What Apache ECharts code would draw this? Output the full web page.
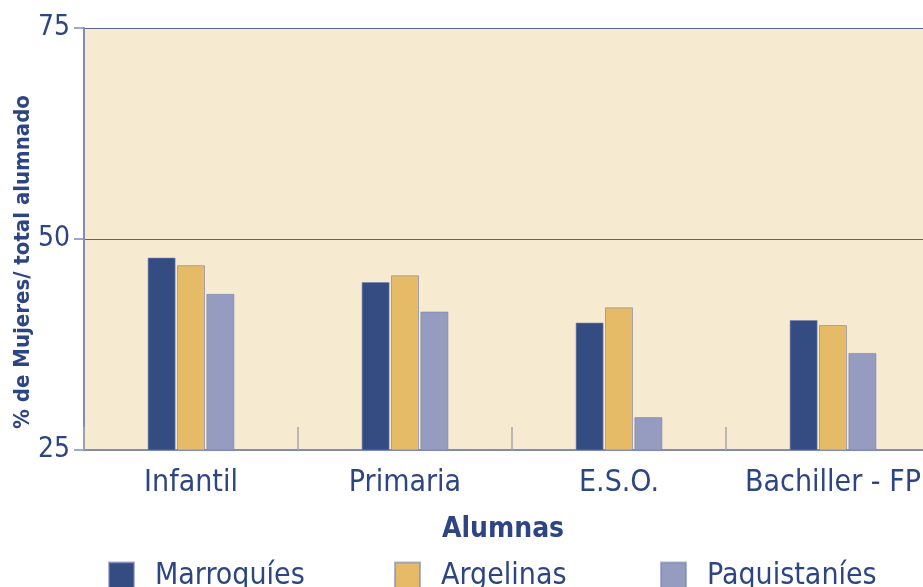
<!DOCTYPE html>
<html>
<head>
<meta charset="utf-8">
<script src="https://cdn.jsdelivr.net/npm/echarts@6/dist/echarts.min.js"></script>
<style>
  html, body { margin: 0; padding: 0; background: #ffffff; }
  #chart { width: 923px; height: 587px; }
</style>
</head>
<body>
<div id="chart"></div>
<script>
// categorias del eje x
const categories = ["Infantil", "Primaria", "E.S.O.", "Bachiller - FP"];
// % de mujeres sobre total alumnado
const marroquies = [47.8, 44.9, 40.1, 40.4];
const argelinas = [46.9, 45.7, 41.9, 39.8];
const paquistanies = [43.5, 41.4, 28.9, 36.5];
const seriesNames = ["Marroquíes", "Argelinas", "Paquistaníes"];

const font = "'DejaVu Sans Condensed', 'Liberation Sans Narrow', sans-serif";
const textColor = "#2D4582";
const colors = ["#344C82", "#E6BB67", "#959CBF"];

const chart = echarts.init(document.getElementById("chart"));

// una leyenda por serie para poder colocarlas
const legendLefts = [103, 389, 655];
const legends = seriesNames.map((name, i) => ({
  data: [name],
  left: legendLefts[i],
  top: 556,
  itemWidth: 25,
  itemHeight: 27,
  icon: "rect",
  textStyle: {
    fontFamily: font,
    fontSize: 30,
    color: textColor,
    padding: [0, 0, 0, 16]
  }
}));

const option = {
  animation: false,
  color: colors,
  textStyle: { fontFamily: font },
  grid: {
    left: 84,
    right: -17,
    top: 28,
    bottom: 137,
    outerBoundsMode: "none",
    containLabel: false,
    show: true,
    backgroundColor: "#F6EAD1",
    borderWidth: 0
  },
  legend: legends,
  xAxis: {
    type: "category",
    data: categories,
    name: "Alumnas",
    nameLocation: "middle",
    nameGap: 66,
    nameTextStyle: {
      fontFamily: font,
      fontSize: 28,
      fontWeight: "bold",
      color: textColor,
      padding: [0, 18, 0, 0]
    },
    axisLine: { lineStyle: { color: "#7F8CBA", width: 2 } },
    axisTick: {
      show: true,
      inside: true,
      interval: 0,
      length: 23,
      lineStyle: { color: "#A8A8A8", width: 1.5 }
    },
    axisLabel: {
      interval: 0,
      fontFamily: font,
      fontSize: 30,
      color: textColor,
      margin: 18
    }
  },
  yAxis: {
    type: "value",
    min: 25,
    max: 75,
    interval: 25,
    name: "% de Mujeres/ total alumnado",
    nameLocation: "middle",
    nameGap: 50,
    nameMoveOverlap: false,
    nameTextStyle: {
      fontFamily: font,
      fontSize: 22,
      fontWeight: "bold",
      color: textColor,
      padding: [0, 46, 0, 0]
    },
    axisLine: { show: true, lineStyle: { color: "#7F8CBA", width: 2 } },
    axisTick: { show: true, length: 10, lineStyle: { color: "#7F8CBA", width: 1.5 } },
    axisLabel: {
      fontFamily: font,
      fontSize: 28,
      color: textColor,
      margin: 14
    },
    splitLine: { show: true, lineStyle: { color: "#56638F", width: 1.2 } }
  },
  series: [marroquies, argelinas, paquistanies].map((d, i) => ({
    name: seriesNames[i],
    type: "bar",
    data: d,
    barWidth: 28,
    barGap: "5%",
    itemStyle: {
      color: colors[i],
      borderColor: "rgba(120,130,180,0.6)",
      borderWidth: 1
    }
  }))
};

chart.setOption(option);
</script>
</body>
</html>
